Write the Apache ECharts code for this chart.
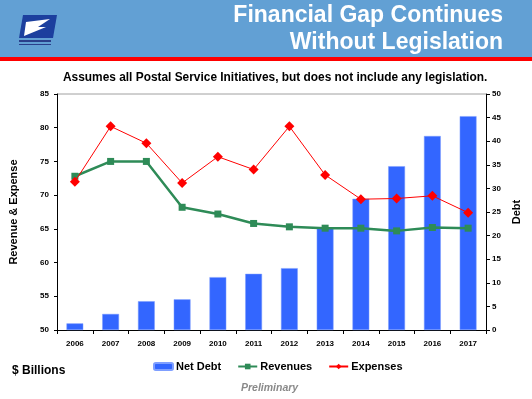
<!DOCTYPE html>
<html>
<head>
<meta charset="utf-8">
<script src="https://cdn.jsdelivr.net/npm/echarts@6/dist/echarts.min.js"></script>
<style>
  html, body { margin: 0; padding: 0; background: #fff; }
  #chart { width: 532px; height: 399px; }
</style>
</head>
<body>
<div id="chart"></div>
<script>
var years = ['2006', '2007', '2008', '2009', '2010', '2011', '2012', '2013', '2014', '2015', '2016', '2017'];
var netDebt = [1.4, 3.4, 6.1, 6.5, 11.2, 11.9, 13.1, 21.6, 27.8, 34.7, 41.1, 45.3];
var revenues = [72.8, 75.0, 75.0, 68.2, 67.2, 65.8, 65.3, 65.1, 65.1, 64.7, 65.2, 65.1];
var expenses = [72.0, 80.2, 77.7, 71.8, 75.7, 73.8, 80.2, 73.0, 69.4, 69.5, 69.9, 67.4];

var chart = echarts.init(document.getElementById('chart'));

var axisFont = { fontFamily: 'Arial', fontSize: 8, fontWeight: 'bold', color: '#000' };

var option = {
    animation: false,
    textStyle: { fontFamily: 'Arial' },
    graphic: [
        // header band
        { type: 'rect', shape: { x: 0, y: 0, width: 532, height: 57 }, style: { fill: '#62a0d4' }, z: 0 },
        { type: 'rect', shape: { x: 0, y: 57, width: 532, height: 4 }, style: { fill: '#ff0000' }, z: 0 },
        // logo
        { type: 'polygon', shape: { points: [[23, 15], [57, 15], [53, 38], [19, 38]] }, style: { fill: '#1c3f9e' }, z: 1 },
        { type: 'polygon', shape: { points: [[26, 22], [50, 19], [38, 27], [46, 27], [24, 36]] }, style: { fill: '#ffffff' }, z: 2 },
        { type: 'rect', shape: { x: 19, y: 40, width: 32, height: 2 }, style: { fill: '#2a3f8a' }, z: 1 },
        { type: 'rect', shape: { x: 19, y: 44, width: 32, height: 1 }, style: { fill: '#2a3f8a' }, z: 1 },
        // title
        {
            type: 'text', right: 29, top: 4, z: 3,
            style: { text: 'Financial Gap Continues', font: 'bold 23px Arial', fill: '#fff', textAlign: 'right',
                     shadowColor: 'rgba(0,0,0,0.35)', shadowOffsetX: 1, shadowOffsetY: 1, shadowBlur: 1 }
        },
        {
            type: 'text', right: 29, top: 31, z: 3,
            style: { text: 'Without Legislation', font: 'bold 23px Arial', fill: '#fff', textAlign: 'right',
                     shadowColor: 'rgba(0,0,0,0.35)', shadowOffsetX: 1, shadowOffsetY: 1, shadowBlur: 1 }
        },
        // subtitle
        {
            type: 'text', left: 63, top: 72,
            style: { text: 'Assumes all Postal Service Initiatives, but does not include any legislation.', font: 'bold 11.9px Arial', fill: '#000' }
        },
        // top border of plot
        { type: 'line', shape: { x1: 57, y1: 94, x2: 486, y2: 94 }, style: { stroke: '#a0a0a0', lineWidth: 1 } },
        {
            type: 'text', left: 12, top: 365,
            style: { text: '$ Billions', font: 'bold 12px Arial', fill: '#000' }
        },
        {
            type: 'text', left: 241, top: 383,
            style: { text: 'Preliminary', font: 'italic bold 10.5px Arial', fill: '#8a8a8a' }
        }
    ],
    grid: { left: 57, right: 46, top: 94, bottom: 69 },
    legend: {
        left: 148, top: 356,
        itemWidth: 19, itemHeight: 7, itemGap: 16,
        textStyle: { fontFamily: 'Arial', fontSize: 11, fontWeight: 'bold', color: '#000', padding: [0, 0, 0, -2] },
        data: ['Net Debt', 'Revenues', 'Expenses']
    },
    xAxis: {
        type: 'category',
        data: years,
        axisLine: { lineStyle: { color: '#000', width: 1 } },
        axisTick: { show: true, length: 4, lineStyle: { color: '#000' } },
        axisLabel: Object.assign({ margin: 10 }, axisFont)
    },
    yAxis: [
        {
            type: 'value', min: 50, max: 85, interval: 5,
            name: 'Revenue & Expense', nameLocation: 'middle', nameGap: 38,
            nameTextStyle: { fontFamily: 'Arial', fontSize: 11, fontWeight: 'bold', color: '#000' },
            axisLine: { show: true, lineStyle: { color: '#000' } },
            axisTick: { show: true, length: 3, lineStyle: { color: '#000' } },
            axisLabel: Object.assign({ margin: 8 }, axisFont),
            splitLine: { show: false }
        },
        {
            type: 'value', min: 0, max: 50, interval: 5,
            name: 'Debt', nameLocation: 'middle', nameGap: 24, nameRotate: 90,
            nameTextStyle: { fontFamily: 'Arial', fontSize: 11, fontWeight: 'bold', color: '#000' },
            axisLine: { show: true, lineStyle: { color: '#000' } },
            axisTick: { show: true, length: 4, lineStyle: { color: '#000' } },
            axisLabel: Object.assign({ margin: 6 }, axisFont),
            splitLine: { show: false }
        }
    ],
    series: [
        {
            name: 'Net Debt',
            type: 'bar',
            yAxisIndex: 1,
            data: netDebt,
            barWidth: '47%',
            itemStyle: { color: '#3366ff', borderColor: '#7f9fff', borderWidth: 0.5 },
            z: 1
        },
        {
            name: 'Revenues',
            type: 'line',
            yAxisIndex: 0,
            data: revenues,
            symbol: 'rect',
            symbolSize: 7,
            lineStyle: { color: '#2e8b57', width: 2.5 },
            itemStyle: { color: '#2e8b57' },
            z: 3
        },
        {
            name: 'Expenses',
            type: 'line',
            yAxisIndex: 0,
            data: expenses,
            symbol: 'diamond',
            symbolSize: 10,
            lineStyle: { color: '#ff0000', width: 1 },
            itemStyle: { color: '#ff0000' },
            z: 4
        }
    ]
};

chart.setOption(option);
</script>
</body>
</html>
